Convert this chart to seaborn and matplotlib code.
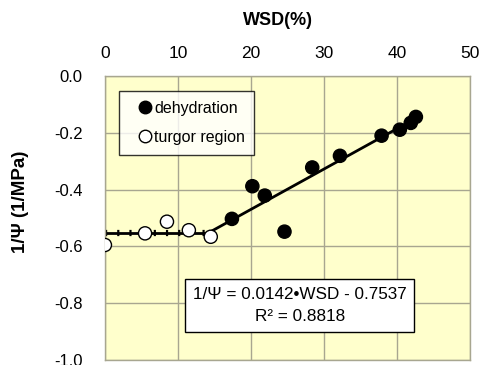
import numpy as np
import pandas as pd
import seaborn as sns
import matplotlib
matplotlib.use("Agg")
import matplotlib.pyplot as plt
from matplotlib.lines import Line2D

# turgor region points (open circles)
turgor_wsd = [0.0, 5.5, 8.5, 11.5, 14.5]
turgor_inv_psi = [-0.595, -0.554, -0.513, -0.543, -0.566]

# dehydration points (filled circles)
dehyd_wsd = [17.4, 20.2, 21.9, 24.6, 28.4, 32.2, 37.9, 40.4, 41.9, 42.6]
dehyd_inv_psi = [-0.503, -0.388, -0.421, -0.548, -0.322, -0.281, -0.210, -0.189, -0.165, -0.144]

slope, intercept = 0.0142, -0.7537
x_ticks = [0, 10, 20, 30, 40, 50]
y_ticks = [0.0, -0.2, -0.4, -0.6, -0.8, -1.0]

sns.set_style("white")
plt.rcParams['font.family'] = ['Liberation Sans', 'DejaVu Sans']
plt.rcParams['text.color'] = 'black'
plt.rcParams['xtick.color'] = 'black'
plt.rcParams['ytick.color'] = 'black'

fig = plt.figure(figsize=(4.79, 3.65), dpi=100)
ax = fig.add_axes([0.219, 0.0137, 0.762, 0.778])
ax.set_facecolor("#ffffcc")

# fitted lines
turgor_mean = np.mean(turgor_inv_psi)
ax.plot([turgor_wsd[0], turgor_wsd[-1]], [turgor_mean] * 2, color="black", lw=2, zorder=2)
ax.plot([turgor_wsd[0], turgor_wsd[-1]], [turgor_mean] * 2, color="black", lw=4.5,
        linestyle=(0, (0.35, 1.6)), zorder=2)
fit_x = np.array([turgor_wsd[-1], dehyd_wsd[-1]])
ax.plot(fit_x, slope * fit_x + intercept, color="black", lw=2, zorder=2)

df = pd.DataFrame({
    "WSD": dehyd_wsd + turgor_wsd,
    "inv": dehyd_inv_psi + turgor_inv_psi,
    "group": ["dehydration"] * len(dehyd_wsd) + ["turgor region"] * len(turgor_wsd),
})
sns.scatterplot(data=df, x="WSD", y="inv", hue="group",
                palette={"dehydration": "black", "turgor region": "white"},
                edgecolor="black", linewidth=1, s=90, ax=ax, zorder=3, legend=False)

ax.set_xlim(0, 50)
ax.set_ylim(-1.0, 0.0)
ax.set_xticks(x_ticks)
ax.set_yticks(y_ticks)
ax.set_yticklabels([f"{v:.1f}" for v in y_ticks])
ax.xaxis.tick_top()
ax.tick_params(axis="x", length=0, pad=11, labelsize=12.5)
ax.tick_params(axis="y", length=0, pad=16, labelsize=12)
ax.grid(True, color="#a8a690", lw=1)
for sp in ax.spines.values():
    sp.set_color("#a8a690")
    sp.set_linewidth(1)

ax.set_xlabel("")
ax.set_ylabel("")
fig.text(0.58, 0.945, "WSD(%)", ha="center", va="center", fontsize=13, fontweight="bold")
fig.text(0.042, 0.447, "1/Ψ (1/MPa)", ha="center", va="center", rotation=90,
         fontsize=13.5, fontweight="bold")

# legend
handles = [
    Line2D([], [], marker="o", color="none", markerfacecolor="black", markeredgecolor="black", markersize=9),
    Line2D([], [], marker="o", color="none", markerfacecolor="white", markeredgecolor="black", markersize=9),
]
leg = ax.legend(handles, ["dehydration", "turgor region"], loc="upper left",
                bbox_to_anchor=(0.038, 0.947), frameon=True, fancybox=False,
                fontsize=11.5, handletextpad=-0.5, handlelength=2.1, borderpad=0.6,
                labelspacing=0.9, borderaxespad=0)
leg.get_frame().set_edgecolor("black")
leg.get_frame().set_linewidth(1)

ax.text(26.7, -0.808, "1/Ψ = 0.0142\u2022WSD - 0.7537\nR² = 0.8818", ha="center", va="center",
        fontsize=12.3, linespacing=1.6,
        bbox=dict(boxstyle="square,pad=0.45", facecolor="white", edgecolor="black", lw=1), zorder=4)

fig.savefig("out.png", dpi=100)
